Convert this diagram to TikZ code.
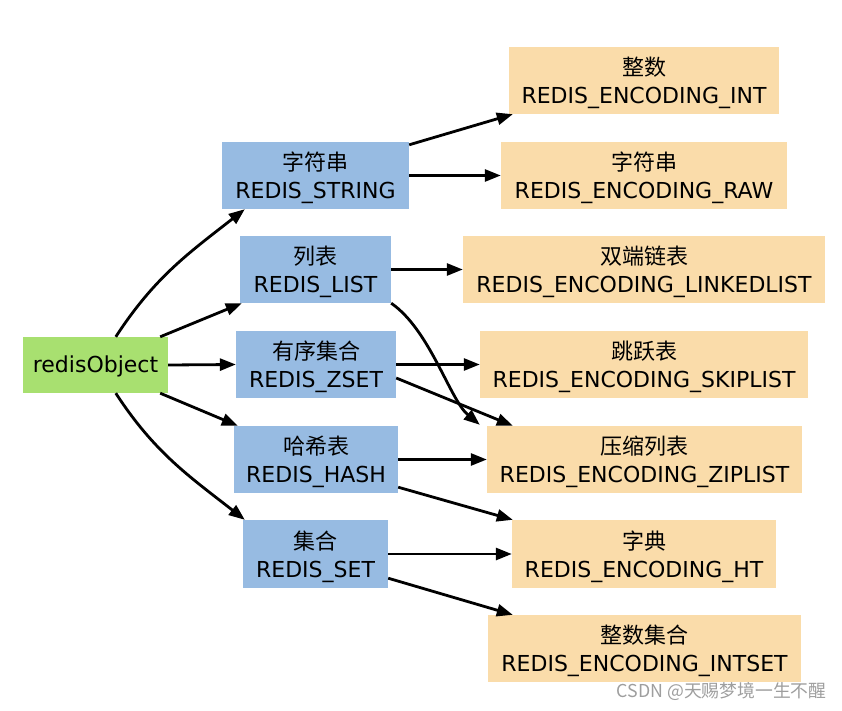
\documentclass[tikz,border=0pt]{standalone}
\usepackage{fontspec}
\setmainfont{DejaVu Sans}
\newfontfamily\cjk{Noto Sans CJK SC}
\usetikzlibrary{arrows.meta,calc}
\definecolor{tblue}{RGB}{151,187,226}
\definecolor{torange}{RGB}{250,220,170}
\definecolor{tgreen}{RGB}{168,224,112}
\newcommand{\topstrut}{\rule{0pt}{23.5pt}}
\begin{document}
\begin{tikzpicture}[x=1pt,y=1pt,
  box/.style={inner sep=0pt,minimum height=67pt,align=center,font=\fontsize{22}{28}\selectfont},
  tbox/.style={box,fill=tblue},
  obox/.style={box,fill=torange},
  arr/.style={line width=2.8pt,-{Triangle[length=16pt,width=12pt]}}]
\useasboundingbox (0,0) rectangle (842,-711);
\node[box,fill=tgreen,minimum width=145pt,minimum height=56pt] (ro) at (95.5,-365) {\rule{0pt}{20pt}redisObject};
\node[tbox,minimum width=187pt] (str) at (315.5,-175.5) {\topstrut{\cjk 字符串}\\REDIS\_STRING};
\node[tbox,minimum width=151pt] (list) at (315.5,-269.5) {\topstrut{\cjk 列表}\\REDIS\_LIST};
\node[tbox,minimum width=160pt] (zset) at (316,-364.5) {\topstrut{\cjk 有序集合}\\REDIS\_ZSET};
\node[tbox,minimum width=164pt] (hash) at (316,-459.5) {\topstrut{\cjk 哈希表}\\REDIS\_HASH};
\node[tbox,minimum width=145pt,minimum height=68pt] (set) at (315.5,-554) {\topstrut{\cjk 集合}\\REDIS\_SET};
\node[obox,minimum width=270pt] (int) at (644,-80.5) {\topstrut{\cjk 整数}\\REDIS\_ENCODING\_INT};
\node[obox,minimum width=286pt] (raw) at (644,-175.5) {\topstrut{\cjk 字符串}\\REDIS\_ENCODING\_RAW};
\node[obox,minimum width=362pt] (lnk) at (644,-269.5) {\topstrut{\cjk 双端链表}\\REDIS\_ENCODING\_LINKEDLIST};
\node[obox,minimum width=328pt] (skip) at (644,-364.5) {\topstrut{\cjk 跳跃表}\\REDIS\_ENCODING\_SKIPLIST};
\node[obox,minimum width=315pt] (zip) at (644.5,-459.5) {\topstrut{\cjk 压缩列表}\\REDIS\_ENCODING\_ZIPLIST};
\node[obox,minimum width=264pt,minimum height=68pt] (ht) at (644,-554) {\topstrut{\cjk 字典}\\REDIS\_ENCODING\_HT};
\node[obox,minimum width=313pt] (iset) at (644.5,-648.5) {\topstrut{\cjk 整数集合}\\REDIS\_ENCODING\_INTSET};
\node[font=\cjk\fontsize{17.8}{20}\selectfont,text=black!38,inner sep=0pt] (wm) at (721.5,-692) {CSDN @天赐梦境一生不醒};
% edges
\draw[arr] ($(ro.north west)+(93,0)$) to[out=57,in=218] ($(str.south west)+(23,0)$);
\draw[arr] ($(ro.north east)+(-8,0)$) -- ($(list.south west)+(2,0)$);
\draw[arr] (ro.east) -- (zset.west);
\draw[arr] ($(ro.south east)+(-8,0)$) -- ($(hash.north west)+(4,0)$);
\draw[arr] ($(ro.south west)+(93,0)$) to[out=-57,in=142] ($(set.north west)+(2,0)$);
\draw[arr] ($(str.north east)+(0,-3)$) -- ($(int.south west)+(4,0)$);
\draw[arr] (str.east) -- (raw.west);
\draw[arr] (list.east) -- (lnk.west);
\draw[arr] (list.south east) .. controls (430,-330) and (450,-400) .. ($(zip.north west)+(-7,1)$);
\draw[arr] (zset.east) -- (skip.west);
\draw[arr] ($(zset.east)+(0,-13.5)$) -- ($(zip.north west)+(26,0)$);
\draw[arr] (hash.east) -- (zip.west);
\draw[arr] ($(hash.south east)+(0,6)$) -- ($(ht.north west)+(1,0)$);
\draw[arr] (set.east) -- (ht.west);
\draw[arr] ($(set.south east)+(0,10)$) -- ($(iset.north west)+(25,0)$);
\end{tikzpicture}
\end{document}
